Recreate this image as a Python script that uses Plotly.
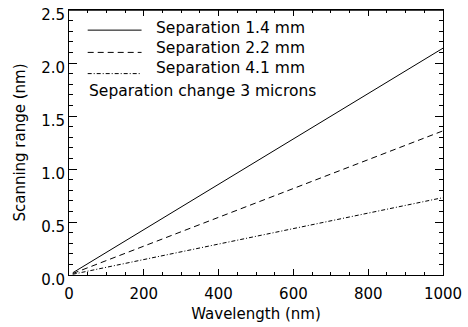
import plotly.graph_objects as go

wavelength = [10, 1000]
range_14 = [0.021, 2.14]
range_22 = [0.014, 1.36]
range_41 = [0.007, 0.73]

legend_labels = ["Separation 1.4 mm", "Separation 2.2 mm", "Separation 4.1 mm"]
note_text = "Separation change 3 microns"
x_ticks = [0, 200, 400, 600, 800, 1000]
y_ticks = [0.0, 0.5, 1.0, 1.5, 2.0, 2.5]

FONT = "DejaVu Sans"
dashes = ["solid", "6px,4px", "4px,2px,1px,2px"]

fig = go.Figure()
for ys, d in zip([range_14, range_22, range_41], dashes):
    fig.add_trace(go.Scatter(x=wavelength, y=ys, mode="lines",
                             line=dict(color="black", width=1, dash=d),
                             showlegend=False, hoverinfo="skip"))

# legend drawn inside plot (data coordinates)
leg_y_line = [2.31, 2.10, 1.90]
leg_y_text = [2.33, 2.14, 1.95]
for lab, d, yl, yt in zip(legend_labels, dashes, leg_y_line, leg_y_text):
    fig.add_shape(type="line", x0=50, x1=194, y0=yl, y1=yl, xref="x", yref="y",
                  line=dict(color="black", width=1, dash=d))
    fig.add_annotation(x=226, y=yt, text=lab, showarrow=False, xanchor="left",
                       yanchor="middle", font=dict(family=FONT, size=15.5, color="black"))
fig.add_annotation(x=48, y=1.74, text=note_text, showarrow=False, xanchor="left",
                   yanchor="middle", font=dict(family=FONT, size=15.5, color="black"))

# top frame line
fig.add_shape(type="line", xref="paper", yref="paper", x0=0, x1=1, y0=1, y1=1,
              line=dict(color="black", width=1.5), layer="above")

axis_common = dict(showline=True, linecolor="black", linewidth=1, mirror="allticks",
                   ticks="inside", tickcolor="black", tickwidth=1, showgrid=False,
                   zeroline=False, tickfont=dict(family=FONT, size=15, color="black"))
fig.update_xaxes(range=[0, 1000], tickvals=x_ticks, ticklen=6, ticklabelstandoff=5,
                 minor=dict(dtick=50, ticks="inside", ticklen=3, tickcolor="black", showgrid=False),
                 title=dict(text="Wavelength (nm)", font=dict(family=FONT, size=15, color="black"),
                            standoff=6),
                 **axis_common)
fig.update_yaxes(range=[0, 2.5], tickvals=y_ticks, tickformat=".1f", ticklen=8,
                 ticklabelshift=5, ticklabeloverflow="allow",
                 minor=dict(dtick=0.1, ticks="inside", ticklen=4, tickcolor="black", showgrid=False),
                 title=dict(text="Scanning range (nm)", font=dict(family=FONT, size=15, color="black"),
                            standoff=11),
                 **axis_common)
fig.update_layout(width=468, height=327, margin=dict(l=69, r=22, t=6, b=52),
                  paper_bgcolor="white", plot_bgcolor="white", showlegend=False)
fig.write_html("out.html")
